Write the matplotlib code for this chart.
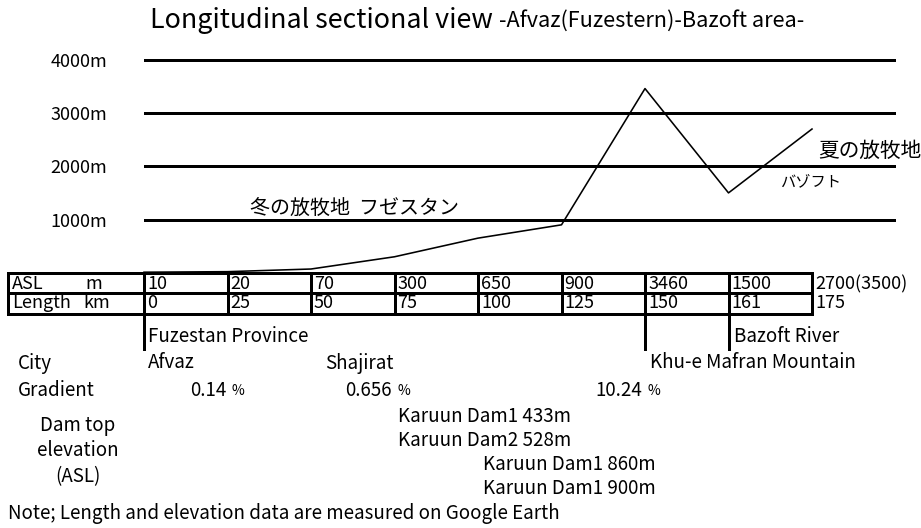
import matplotlib.pyplot as plt

plt.rcParams['font.family'] = ['Noto Sans CJK JP', 'DejaVu Sans']

# values
length_km = ['0', '25', '50', '75', '100', '125', '150', '161', '175']
asl_m = [10, 20, 70, 300, 650, 900, 3460, 1500, 2700]
asl_text = ['10', '20', '70', '300', '650', '900', '3460', '1500', '2700(3500)']
elev_ticks = [1000, 2000, 3000, 4000]
elev_labels = ['1000m', '2000m', '3000m', '4000m']
gradients = ['0.14', '0.656', '10.24']
dams = ['Karuun Dam1 433m', 'Karuun Dam2 528m', 'Karuun Dam1 860m', 'Karuun Dam1 900m']

fs = 13.5
fs_num = 13
lw_px = 0.72  # 1 px in points at dpi 100

fig = plt.figure(figsize=(9.21, 5.28), dpi=100)

# overlay in pixel coordinates for the table and notes
ov = fig.add_axes([0, 0, 1, 1])
ov.set_xlim(0, 921)
ov.set_ylim(528, 0)
ov.axis('off')

# profile axes: 0 m at y=272.7 px, 0.05322 px per metre, 83.5 px per column
y_bot, y_top = 275.4, 54.5
ax = fig.add_axes([144 / 921, (528 - y_bot) / 528, 751.5 / 921, (y_bot - y_top) / 528])
ax.set_xlim(0, 9)
ax.set_ylim(-50, 4100)
ax.patch.set_alpha(0)
for s in ax.spines.values():
    s.set_visible(False)
ax.set_xticks([])
ax.set_yticks(elev_ticks, elev_labels, fontsize=fs_num)
ax.tick_params(axis='y', length=0, pad=26.5)
for t in elev_ticks:
    ax.axhline(t, color='black', lw=3 * lw_px)
ax.plot(range(len(asl_m)), asl_m, color='black', lw=1.6 * lw_px, clip_on=False)


def col_x(i):
    # column edge in overlay pixel coordinates
    px = ax.transData.transform((i, 0))
    return ov.transData.inverted().transform(px)[0]


cols = [col_x(i) for i in range(len(length_km))]

# table
top, mid, bot = 273, 293, 314
tlw = 3 * lw_px
for y in (top, mid, bot):
    ov.plot([8, cols[-1]], [y, y], color='black', lw=tlw, solid_capstyle='projecting')
for x in [8] + cols:
    ov.plot([x, x], [top, bot], color='black', lw=tlw, solid_capstyle='projecting')
ov.text(12, 284, 'ASL', fontsize=fs_num, va='center')
ov.text(85, 284, 'm', fontsize=fs_num, va='center')
ov.text(12, 303, 'Length', fontsize=fs_num, va='center')
ov.text(83, 303, 'km', fontsize=fs_num, va='center')
for x, a, l in zip(cols, asl_text, length_km):
    ov.text(x + 3, 284, a, fontsize=fs_num, va='center')
    ov.text(x + 3, 303, l, fontsize=fs_num, va='center')

# markers under the table
for i in (0, 6, 7):
    ov.plot([cols[i], cols[i]], [bot, 349], color='black', lw=tlw)
ov.text(cols[0] + 4, 337, 'Fuzestan Province', fontsize=fs, va='center')
ov.text(cols[7] + 5, 337, 'Bazoft River', fontsize=fs, va='center')

ov.text(18, 363, 'City', fontsize=fs, va='center')
ov.text(148, 363, 'Afvaz', fontsize=fs, va='center')
ov.text(325, 363, 'Shajirat', fontsize=fs, va='center')
ov.text(650, 363, 'Khu-e Mafran Mountain', fontsize=fs, va='center')

ov.text(18, 390, 'Gradient', fontsize=fs, va='center')
for x, g in zip([226, 392, 642], gradients):
    ov.text(x, 390, g, fontsize=fs, va='center', ha='right')
    ov.text(x + 5, 391, '%', fontsize=10, va='center')

ov.text(78, 451, 'Dam top\nelevation\n(ASL)', fontsize=fs, va='center', ha='center',
        linespacing=1.3)
for (x, y), d in zip([(398, 417), (398, 440), (483, 465), (483, 489)], dams):
    ov.text(x, y, d, fontsize=fs, va='center')

ov.text(8, 514, 'Note; Length and elevation data are measured on Google Earth',
        fontsize=fs, va='center')

# title
ov.text(150, 20, 'Longitudinal sectional view', fontsize=19.3, va='center')
ov.text(499, 21, '-Afvaz(Fuzestern)-Bazoft area-', fontsize=15.6, va='center')

# Japanese annotations
ov.text(250, 208, '冬の放牧地  フゼスタン', fontsize=14.4, va='center')
ov.text(818, 151, '夏の放牧地', fontsize=14.9, va='center')
ov.text(780, 182, 'バゾフト', fontsize=11, va='center')

fig.savefig('out.png', dpi=100)
